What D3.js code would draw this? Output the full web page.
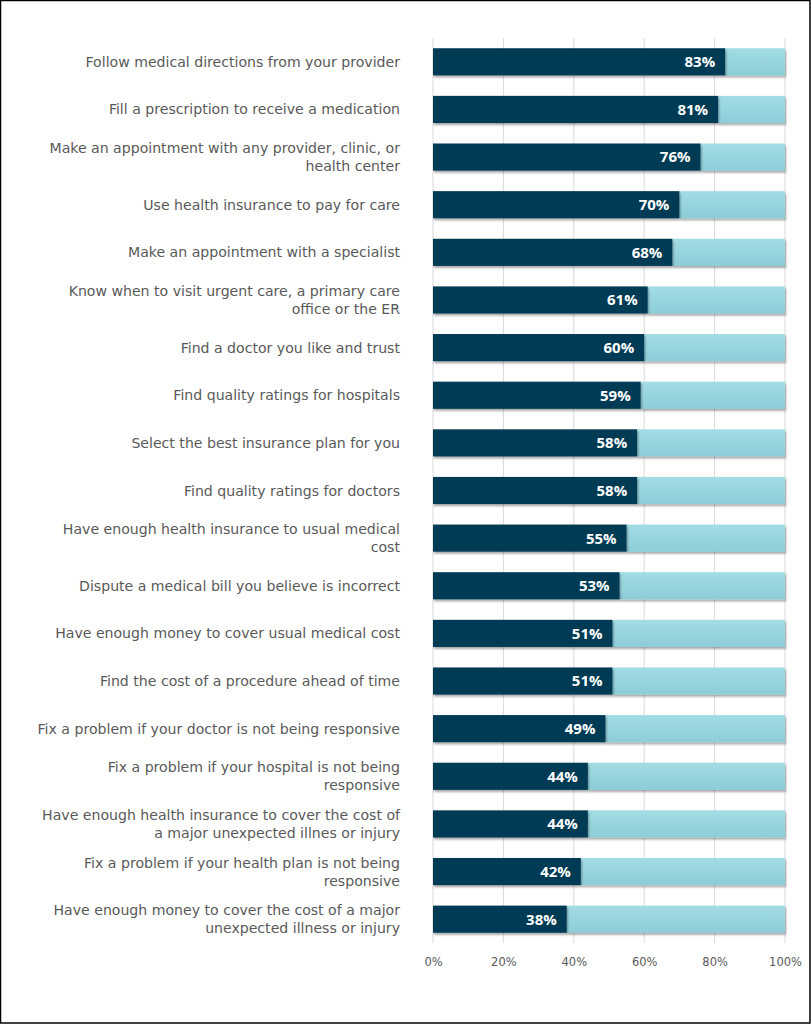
<!DOCTYPE html>
<html>
<head>
<meta charset="utf-8">
<script src="https://cdn.jsdelivr.net/npm/d3@7"></script>
<style>
  body { margin: 0; background: #fff; }
  svg { display: block; }
</style>
</head>
<body>
<svg id="chart" width="811" height="1024"></svg>
<script>
// Libellés (les retours à la ligne suivent la figure)
const categories = [
  "Follow medical directions from your provider",
  "Fill a prescription to receive a medication",
  "Make an appointment with any provider, clinic, or\nhealth center",
  "Use health insurance to pay for care",
  "Make an appointment with a specialist",
  "Know when to visit urgent care, a primary care\noffice or the ER",
  "Find a doctor you like and trust",
  "Find quality ratings for hospitals",
  "Select the best insurance plan for you",
  "Find quality ratings for doctors",
  "Have enough health insurance to usual medical\ncost",
  "Dispute a medical bill you believe is incorrect",
  "Have enough money to cover usual medical cost",
  "Find the cost of a procedure ahead of time",
  "Fix a problem if your doctor is not being responsive",
  "Fix a problem if your hospital is not being\nresponsive",
  "Have enough health insurance to cover the cost of\na major unexpected illnes or injury",
  "Fix a problem if your health plan is not being\nresponsive",
  "Have enough money to cover the cost of a major\nunexpected illness or injury"
];
const confident = [83, 81, 76, 70, 68, 61, 60, 59, 58, 58, 55, 53, 51, 51, 49, 44, 44, 42, 38];
const notConfident = confident.map(v => 100 - v);
const xTicks = [0, 20, 40, 60, 80, 100];

const svg = d3.select("#chart");
const W = +svg.attr("width"), H = +svg.attr("height");

// cadre
svg.append("rect")
  .attr("x", 0.5).attr("y", 0.5)
  .attr("width", W - 1.5).attr("height", H - 1.5)
  .attr("fill", "#fff").attr("stroke", "#000").attr("stroke-width", 1.5);

const defs = svg.append("defs");
const shadow = defs.append("filter").attr("id", "shadow")
  .attr("x", "-5%").attr("y", "-20%").attr("width", "110%").attr("height", "160%");
shadow.append("feDropShadow")
  .attr("dx", 1).attr("dy", 2).attr("stdDeviation", 1.3)
  .attr("flood-color", "#000").attr("flood-opacity", 0.35);

const grad = defs.append("linearGradient").attr("id", "lightGrad")
  .attr("x1", 0).attr("y1", 0).attr("x2", 0).attr("y2", 1);
grad.append("stop").attr("offset", "0%").attr("stop-color", "#a3dce5");
grad.append("stop").attr("offset", "100%").attr("stop-color", "#8ccdd8");

const x = d3.scaleLinear().domain([0, 100]).range([433, 785]);
const y = d3.scaleBand().domain(d3.range(categories.length)).range([38, 943]).paddingInner(0.43).paddingOuter(0.215);

// grille verticale
svg.append("g")
  .selectAll("line")
  .data(xTicks)
  .join("line")
  .attr("x1", d => x(d)).attr("x2", d => x(d))
  .attr("y1", 38).attr("y2", 943)
  .attr("stroke", "#d9d9d9").attr("stroke-width", 1);

// axe du bas
const axis = svg.append("g")
  .attr("transform", "translate(0,943)")
  .call(d3.axisBottom(x).tickValues(xTicks).tickFormat(d => d + "%").tickSize(0).tickPadding(15));
axis.select(".domain").remove();
axis.selectAll("text")
  .attr("font-family", "'DejaVu Sans', sans-serif")
  .attr("font-size", 11.5)
  .attr("fill", "#595959");

const bars = svg.append("g");

bars.selectAll("rect.light")
  .data(notConfident)
  .join("rect")
  .attr("class", "light")
  .attr("x", (d, i) => x(confident[i]))
  .attr("y", (d, i) => y(i))
  .attr("width", (d, i) => x(confident[i] + d) - x(confident[i]))
  .attr("height", y.bandwidth())
  .attr("fill", "url(#lightGrad)")
  .attr("filter", "url(#shadow)");

bars.selectAll("rect.dark")
  .data(confident)
  .join("rect")
  .attr("class", "dark")
  .attr("x", x(0))
  .attr("y", (d, i) => y(i))
  .attr("width", d => x(d) - x(0))
  .attr("height", y.bandwidth())
  .attr("fill", "#023b54")
  .attr("filter", "url(#shadow)");

bars.selectAll("text.val")
  .data(confident)
  .join("text")
  .attr("class", "val")
  .attr("x", d => x(d) - 10)
  .attr("y", (d, i) => y(i) + y.bandwidth() / 2)
  .attr("dy", "0.36em")
  .attr("text-anchor", "end")
  .attr("font-family", "'Open Sans', sans-serif")
  .attr("font-weight", "bold")
  .attr("font-size", 15)
  .attr("fill", "#fff")
  .text(d => d + "%");

// libellés des catégories
const labels = svg.append("g")
  .selectAll("text")
  .data(categories)
  .join("text")
  .attr("x", 400)
  .attr("y", (d, i) => y(i) + y.bandwidth() / 2)
  .attr("text-anchor", "end")
  .attr("font-family", "'DejaVu Sans', sans-serif")
  .attr("font-size", 14.1)
  .attr("fill", "#595959");

labels.each(function(d) {
  const lines = d.split("\n");
  const t = d3.select(this);
  const lh = 18;
  const start = -(lines.length - 1) * lh / 2;
  lines.forEach((ln, k) => {
    t.append("tspan")
      .attr("x", 400)
      .attr("dy", k === 0 ? (start + 5) + "px" : lh + "px")
      .text(ln);
  });
});
</script>
</body>
</html>
